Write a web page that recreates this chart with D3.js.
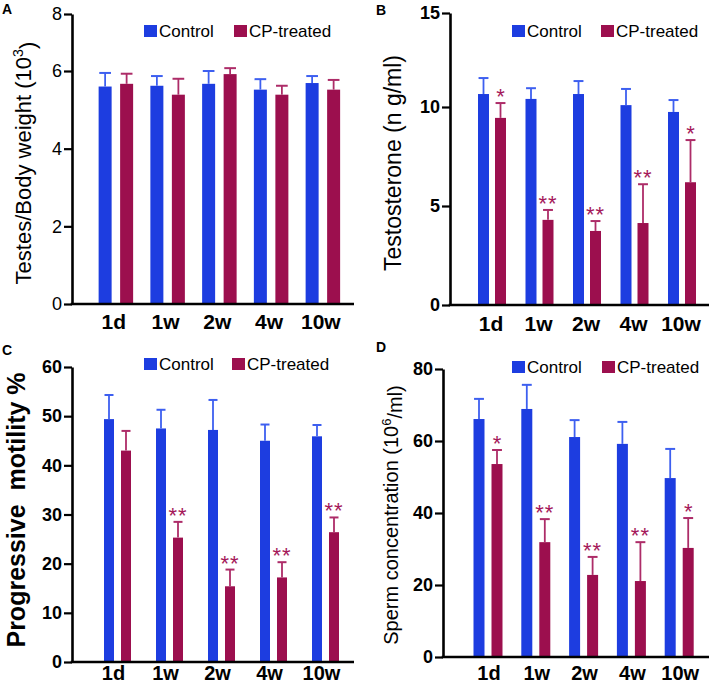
<!DOCTYPE html>
<html><head><meta charset="utf-8">
<script src="https://cdn.jsdelivr.net/npm/d3@7"></script>
<style>
body{margin:0;background:#fff;}
svg{display:block;font-family:"Liberation Sans",Arial,Helvetica,sans-serif;}
</style></head>
<body><svg id="chart" width="709" height="685"></svg>
<script>
// ---------- data ----------
const categories = ["1d", "1w", "2w", "4w", "10w"];
const series = ["Control", "CP-treated"];

// A: Testes/Body weight (10^3)
const weightControl = [5.60, 5.62, 5.67, 5.52, 5.69];
const weightControlSD = [0.35, 0.25, 0.33, 0.27, 0.18];
const weightCP = [5.67, 5.39, 5.92, 5.39, 5.52];
const weightCPSD = [0.26, 0.41, 0.18, 0.23, 0.25];
const weightTicks = [0, 2, 4, 6, 8];
const weightStars = ["", "", "", "", ""];

// B: Testosterone (ng/ml)
const testoControl = [10.69, 10.43, 10.69, 10.10, 9.75];
const testoControlSD = [0.85, 0.57, 0.69, 0.86, 0.62];
const testoCP = [9.45, 4.30, 3.74, 4.14, 6.20];
const testoCPSD = [0.76, 0.50, 0.50, 1.96, 2.13];
const testoTicks = [0, 5, 10, 15];
const testoStars = ["*", "**", "**", "**", "*"];

// C: Progressive motility %
const motilityControl = [49.4, 47.5, 47.2, 45.0, 45.9];
const motilityControlSD = [4.9, 3.8, 6.1, 3.3, 2.3];
const motilityCP = [43.0, 25.3, 15.4, 17.2, 26.4];
const motilityCPSD = [4.0, 3.2, 3.4, 3.1, 3.0];
const motilityTicks = [0, 10, 20, 30, 40, 50, 60];
const motilityStars = ["", "**", "**", "**", "**"];

// D: Sperm concentration (10^6/ml)
const spermControl = [66.1, 68.9, 61.1, 59.2, 49.7];
const spermControlSD = [5.6, 6.7, 4.7, 6.1, 8.1];
const spermCP = [53.6, 31.9, 22.8, 21.1, 30.3];
const spermCPSD = [3.9, 6.4, 5.0, 10.8, 8.3];
const spermTicks = [0, 20, 40, 60, 80];
const spermStars = ["*", "**", "**", "**", "*"];

// ---------- styles ----------
const barColor = {"Control": "#1d3de0", "CP-treated": "#9c0f4e"};
const errColor = {"Control": "#3d5ff0", "CP-treated": "#ad2c68"};
const starColor = "#a5185a";

const svg = d3.select("#chart");

function panel(cfg) {
  const g = svg.append("g");
  const y = d3.scaleLinear().domain(cfg.yDomain).range(cfg.yRange);
  const x0 = d3.scaleBand().domain(categories)
    .range([cfg.xStart, cfg.xStart + cfg.step * categories.length]);
  const w = cfg.sep + cfg.barW;
  const x1 = d3.scaleBand().domain(series)
    .range([-w / 2, w / 2]).paddingInner(1 - cfg.barW / cfg.sep).paddingOuter(0);

  const rows = [];
  categories.forEach((c, i) => {
    rows.push({cat: c, s: "Control", v: cfg.control[i], sd: cfg.controlSD[i], star: ""});
    rows.push({cat: c, s: "CP-treated", v: cfg.cp[i], sd: cfg.cpSD[i], star: cfg.stars[i]});
  });
  const cx = d => x0(d.cat) + x0.bandwidth() / 2 + x1(d.s);

  // bars
  g.selectAll("rect.bar").data(rows).join("rect")
    .attr("x", d => cx(d)).attr("width", x1.bandwidth())
    .attr("y", d => y(d.v)).attr("height", d => y(0) - y(d.v))
    .attr("fill", d => barColor[d.s]);

  // error bars (upper only)
  const eb = g.selectAll("g.err").data(rows).join("g");
  eb.append("line")
    .attr("x1", d => cx(d) + x1.bandwidth() / 2).attr("x2", d => cx(d) + x1.bandwidth() / 2)
    .attr("y1", d => y(d.v)).attr("y2", d => y(d.v + d.sd))
    .attr("stroke", d => errColor[d.s]).attr("stroke-width", 1.8);
  eb.append("line")
    .attr("x1", d => cx(d) + x1.bandwidth() * 0.05).attr("x2", d => cx(d) + x1.bandwidth() * 0.95)
    .attr("y1", d => y(d.v + d.sd)).attr("y2", d => y(d.v + d.sd))
    .attr("stroke", d => errColor[d.s]).attr("stroke-width", 2);

  // stars
  g.selectAll("text.star").data(rows.filter(d => d.star)).join("text")
    .attr("x", d => cx(d) + x1.bandwidth() / 2)
    .attr("y", d => y(d.v + d.sd) + 1)
    .attr("text-anchor", "middle")
    .attr("font-size", 22).attr("letter-spacing", d => d.star.length > 1 ? 1 : 0)
    .attr("fill", starColor)
    .text(d => d.star);

  // y axis
  const ya = g.append("g").attr("transform", `translate(${cfg.axisX},0)`)
    .call(d3.axisLeft(y).tickValues(cfg.ticks).tickSize(8).tickSizeOuter(0).tickPadding(2));
  ya.select(".domain").attr("stroke", "#000").attr("stroke-width", 2.6);
  ya.selectAll(".tick line").attr("stroke", "#000").attr("stroke-width", 2.2);
  ya.selectAll(".tick text").attr("fill", "#000")
    .attr("font-size", cfg.tickSize).attr("font-weight", cfg.tickWeight)
    .attr("font-family", '"Liberation Sans",Arial,sans-serif');

  // x axis line
  g.append("line").attr("x1", cfg.axisX - 1.3).attr("x2", cfg.xEnd)
    .attr("y1", y(0)).attr("y2", y(0)).attr("stroke", "#000").attr("stroke-width", 2.6);
  // x labels
  g.selectAll("text.xl").data(categories).join("text")
    .attr("x", c => x0(c) + x0.bandwidth() / 2 + cfg.labelDx)
    .attr("y", cfg.labelY).attr("text-anchor", "middle")
    .attr("font-size", cfg.labelSize).attr("font-weight", "bold").text(c => c);

  // legend
  series.forEach((s, i) => {
    g.append("rect").attr("x", cfg.legX[i]).attr("y", cfg.legY)
      .attr("width", 13).attr("height", 12).attr("fill", barColor[s]);
    g.append("text").attr("x", cfg.legX[i] + 15).attr("y", cfg.legY + 12)
      .attr("font-size", 17).text(s);
  });

  // y title
  const t = g.append("text")
    .attr("transform", `translate(${cfg.titleX},${cfg.titleY}) rotate(-90)`)
    .attr("text-anchor", "middle")
    .attr("font-size", cfg.titleSize).attr("font-weight", cfg.titleWeight);
  cfg.title.forEach(part => {
    const ts = t.append("tspan").text(part.t);
    if (part.sup) ts.attr("font-size", "0.65em").attr("dy", "-0.55em");
    if (part.after) ts.attr("dy", "0.55em");
  });

  // panel letter
  g.append("text").attr("x", cfg.letterX).attr("y", cfg.letterY)
    .attr("font-size", 14).attr("font-weight", "bold").text(cfg.letter);
}

panel({
  letter: "A", letterX: 2, letterY: 14,
  control: weightControl, controlSD: weightControlSD, cp: weightCP, cpSD: weightCPSD,
  stars: weightStars, ticks: weightTicks,
  yDomain: [0, 6, 8], yRange: [304, 71, 14],
  axisX: 72, xStart: 90, step: 51.75, barW: 13, sep: 21.5, xEnd: 354,
  labelY: 329, labelSize: 21, labelDx: -2, tickSize: 18, tickWeight: "normal",
  legX: [144, 234], legY: 25,
  title: [{t: "Testes/Body weight (10"}, {t: "3", sup: true}, {t: ")", after: true}],
  titleX: 31, titleY: 163, titleSize: 22, titleWeight: "normal"
});

panel({
  letter: "B", letterX: 376, letterY: 15,
  control: testoControl, controlSD: testoControlSD, cp: testoCP, cpSD: testoCPSD,
  stars: testoStars, ticks: testoTicks,
  yDomain: [0, 10, 15], yRange: [305, 107, 13],
  axisX: 450, xStart: 468.25, step: 47.5, barW: 11, sep: 17, xEnd: 709,
  labelY: 331, labelSize: 21, labelDx: -1, tickSize: 18, tickWeight: "bold",
  legX: [512, 601], legY: 25,
  title: [{t: "Testosterone (n g/ml)"}],
  titleX: 401, titleY: 163, titleSize: 23, titleWeight: "normal"
});

panel({
  letter: "C", letterX: 2, letterY: 355,
  control: motilityControl, controlSD: motilityControlSD, cp: motilityCP, cpSD: motilityCPSD,
  stars: motilityStars, ticks: motilityTicks,
  yDomain: [0, 60], yRange: [662, 367],
  axisX: 72, xStart: 91.5, step: 52, barW: 10, sep: 17, xEnd: 354,
  labelY: 680, labelSize: 20, labelDx: -4, tickSize: 18, tickWeight: "bold",
  legX: [144, 232], legY: 358,
  title: [{t: "Progressive\u00a0 motility %"}],
  titleX: 25, titleY: 510, titleSize: 25, titleWeight: "bold"
});

panel({
  letter: "D", letterX: 376, letterY: 352,
  control: spermControl, controlSD: spermControlSD, cp: spermCP, cpSD: spermCPSD,
  stars: spermStars, ticks: spermTicks,
  yDomain: [0, 80], yRange: [657, 369],
  axisX: 443, xStart: 464.1, step: 47.8, barW: 11, sep: 18, xEnd: 709,
  labelY: 680, labelSize: 20, labelDx: 1, tickSize: 18, tickWeight: "bold",
  legX: [512, 602], legY: 361,
  title: [{t: "Sperm concentration (10"}, {t: "6", sup: true}, {t: "/ml)", after: true}],
  titleX: 398, titleY: 515, titleSize: 20, titleWeight: "normal"
});
</script></body></html>
